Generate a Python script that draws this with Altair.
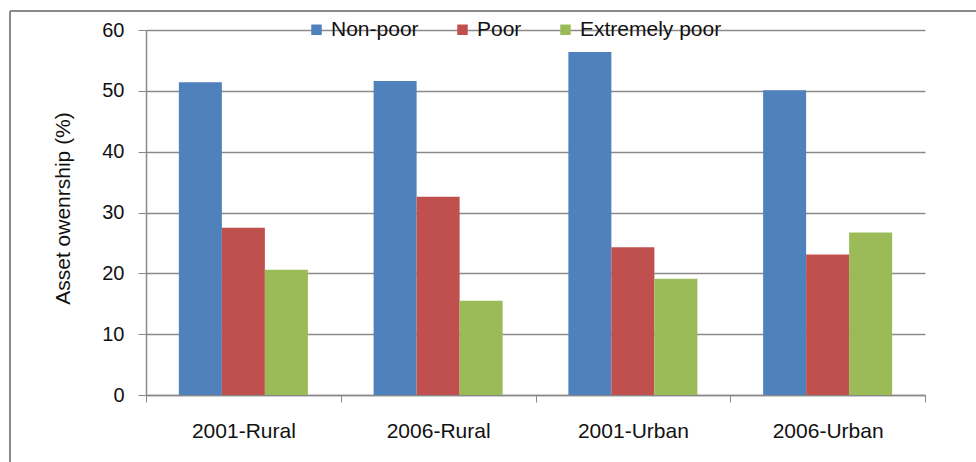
import altair as alt
import pandas as pd

# Asset ownership (%) by poverty status, area and survey year
categories = ["2001-Rural", "2006-Rural", "2001-Urban", "2006-Urban"]
series = ["Non-poor", "Poor", "Extremely poor"]
non_poor = [51.4, 51.6, 56.4, 50.1]
poor = [27.5, 32.6, 24.3, 23.1]
extremely_poor = [20.6, 15.5, 19.1, 26.7]
colors = ["#4F81BD", "#C0504D", "#9BBB59"]
y_ticks = [0, 10, 20, 30, 40, 50, 60]

rows = []
for name, values in zip(series, [non_poor, poor, extremely_poor]):
    for cat, v in zip(categories, values):
        rows.append({"category": cat, "status": name, "value": v})
df = pd.DataFrame(rows)

FONT = "Liberation Sans"
GRAY = "#8a8a8a"
TEXT = "#111111"

bars = alt.Chart(df).mark_bar().encode(
    x=alt.X(
        "category:N",
        sort=categories,
        title=None,
        scale=alt.Scale(paddingInner=0, paddingOuter=0),
        axis=alt.Axis(
            labelAngle=0,
            labelFontSize=21,
            labelFont=FONT,
            labelColor=TEXT,
            labelPadding=18,
            tickBand="extent",
            tickSize=7,
            tickColor=GRAY,
            domainColor=GRAY,
            domainWidth=1.5,
            grid=False,
        ),
    ),
    xOffset=alt.XOffset(
        "status:N",
        sort=series,
        scale=alt.Scale(paddingInner=0, paddingOuter=0.7645),
    ),
    y=alt.Y(
        "value:Q",
        title="Asset owenrship (%)",
        scale=alt.Scale(domain=[0, 60], nice=False),
        axis=alt.Axis(
            values=y_ticks,
            labelFontSize=20,
            labelFont=FONT,
            labelColor=TEXT,
            labelPadding=14,
            tickSize=8,
            tickColor=GRAY,
            domainColor=GRAY,
            domainWidth=1.5,
            gridColor=GRAY,
            gridWidth=1.5,
            titleFont=FONT,
            titleFontSize=21,
            titleFontWeight="normal",
            titleColor=TEXT,
            titleX=-83,
            titleY=178,
            titleAlign="center",
            titleBaseline="middle",
        ),
    ),
    color=alt.Color(
        "status:N",
        sort=series,
        scale=alt.Scale(domain=series, range=colors),
        legend=alt.Legend(
            title=None,
            orient="none",
            direction="horizontal",
            legendX=160,
            legendY=-11,
            symbolType="square",
            symbolSize=110,
            symbolStrokeWidth=0,
            labelFont=FONT,
            labelFontSize=21,
            labelColor=TEXT,
            labelOffset=4,
            columnPadding=33,
            padding=0,
        ),
    ),
)

# Outer frame around the chart (top and left edges)
frame_top = alt.Chart(df).mark_rule(color=GRAY, strokeWidth=2).encode(
    x=alt.value(-136), x2=alt.value(900), y=alt.value(-19)
)
frame_left = alt.Chart(df).mark_rule(color=GRAY, strokeWidth=2).encode(
    x=alt.value(-136), y=alt.value(-19), y2=alt.value(500)
)

chart = (
    alt.layer(bars, frame_top, frame_left)
    .properties(
        width=779,
        height=365,
        autosize=alt.AutoSizeParams(type="none"),
        padding={"left": 146, "top": 30, "right": 51, "bottom": 67},
        background="white",
    )
    .configure_view(stroke=None)
)

chart.save("out.html", embed_options={"renderer": "svg", "actions": False})
